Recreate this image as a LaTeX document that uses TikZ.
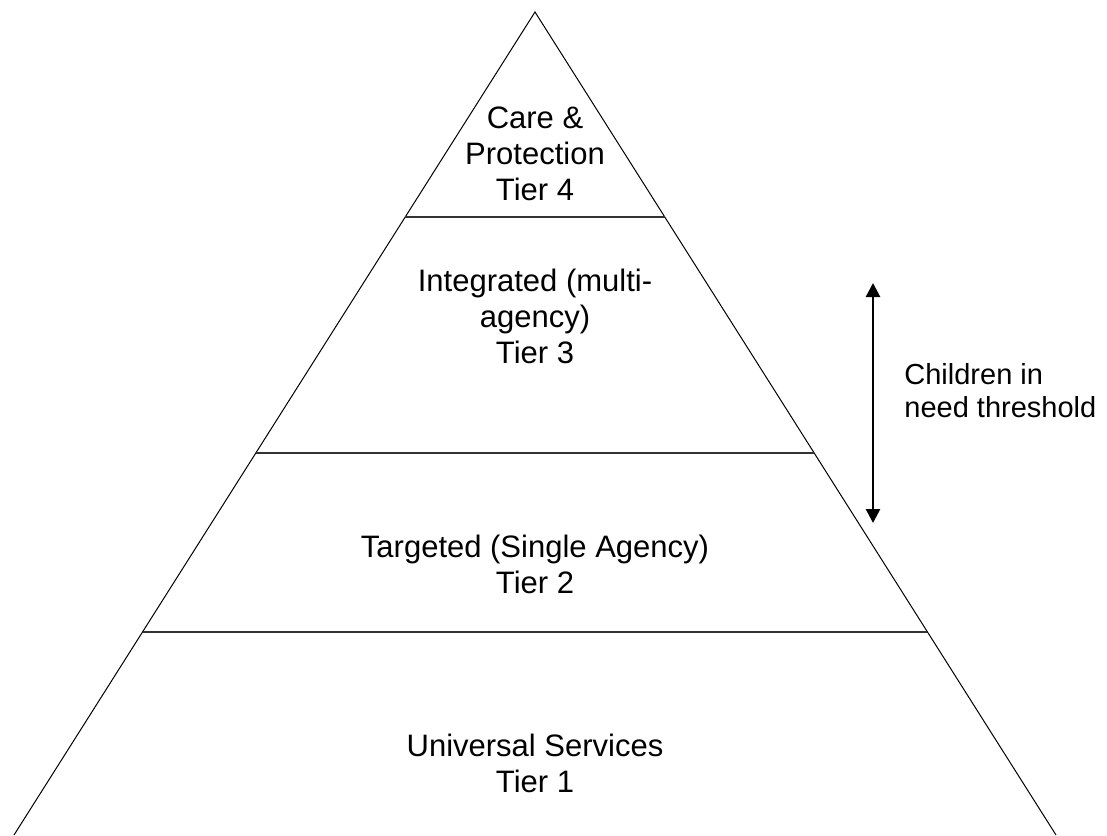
\documentclass[tikz,border=0pt]{standalone}
\usepackage{fontspec}
\setmainfont{Liberation Sans}
\usetikzlibrary{arrows.meta,calc}
\definecolor{ink}{HTML}{000000}
\definecolor{rule}{HTML}{333333}
\newcommand{\tierfont}{\fontsize{15.5}{18}\selectfont}
\newcommand{\notefont}{\fontsize{14.5}{16.5}\selectfont}
\tikzset{
  tierlabel/.style={align=center, font=\tierfont, inner sep=0pt, text=ink},
  sidelabel/.style={align=left, font=\notefont, inner sep=0pt, text=ink},
  side/.style={draw=ink, line width=0.5pt},
  tierline/.style={draw=rule, line width=1pt},
  arrow/.style={{Triangle[length=7pt,width=7pt]}-{Triangle[length=7pt,width=7pt]}, line width=1.3pt, draw=ink}
}

\begin{document}
\begin{tikzpicture}[x=0.5pt, y=-0.5pt]
  \useasboundingbox (0,0) rectangle (1107,835);
  % pyramid outline (base runs off the page)
  \coordinate (apex) at (535,12);
  \coordinate (bl) at (14,835);
  \coordinate (br) at (1056,835);
  \draw[side] (bl) -- (apex) -- (br);
  % tier borders
  \draw[tierline] ($(apex)!0.2491!(bl)$) -- ($(apex)!0.2491!(br)$);
  \draw[tierline] ($(apex)!0.5358!(bl)$) -- ($(apex)!0.5358!(br)$);
  \draw[tierline] ($(apex)!0.7533!(bl)$) -- ($(apex)!0.7533!(br)$);
  % tier labels
  \node[tierlabel] (tier4) at (535,154) {Care \&\\Protection\\Tier 4};
  \node[tierlabel] (tier3) at (535,316) {Integrated (multi-\\agency)\\Tier 3};
  \node[tierlabel] (tier2) at (535,564) {Targeted (Single Agency)\\Tier 2};
  \node[tierlabel] (tier1) at (535,763) {Universal Services\\Tier 1};
  % threshold
  \coordinate (thtop) at (873,283);
  \coordinate (thbot) at (873,523);
  \draw[arrow] (thtop) -- (thbot);
  \node[sidelabel, anchor=west] (need) at (904,391) {Children in\\need threshold};
\end{tikzpicture}
\end{document}
